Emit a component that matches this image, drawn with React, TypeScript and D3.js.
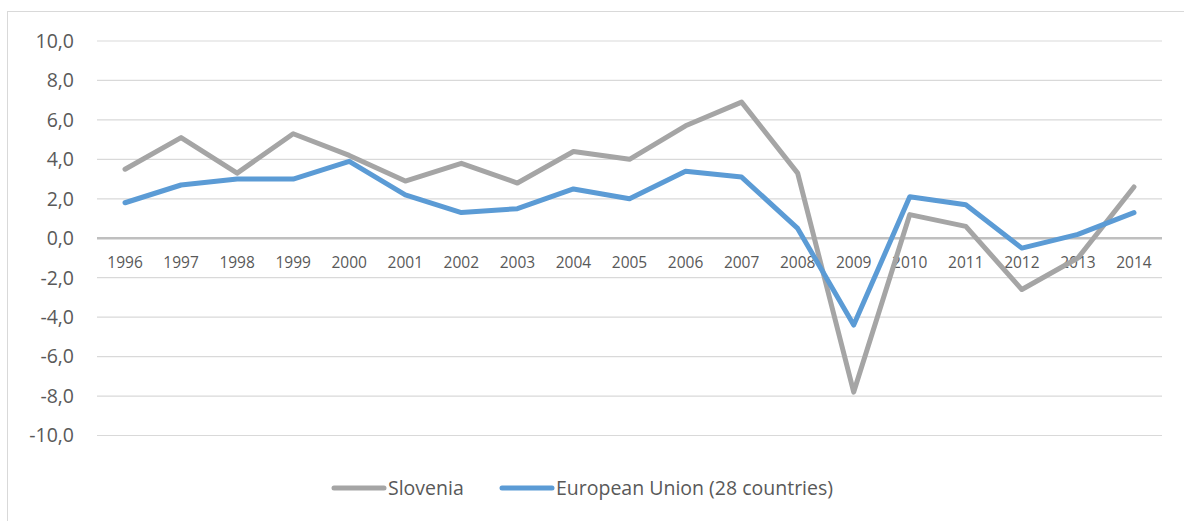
import React from "react";
import * as d3 from "d3";

const years = ["1996","1997","1998","1999","2000","2001","2002","2003","2004","2005","2006","2007","2008","2009","2010","2011","2012","2013","2014"];
const slovenia = [3.5, 5.1, 3.3, 5.3, 4.2, 2.9, 3.8, 2.8, 4.4, 4.0, 5.7, 6.9, 3.3, -7.8, 1.2, 0.6, -2.6, -1.0, 2.6];
const eu28 = [1.8, 2.7, 3.0, 3.0, 3.9, 2.2, 1.3, 1.5, 2.5, 2.0, 3.4, 3.1, 0.5, -4.4, 2.1, 1.7, -0.5, 0.2, 1.3];
const yTicks = [-10, -8, -6, -4, -2, 0, 2, 4, 6, 8, 10];
const seriesNames = ["Slovenia", "European Union (28 countries)"];
const seriesColors = ["#A5A5A5", "#5B9BD5"];

const W = 1184, H = 521;
const FONT = "'Open Sans', 'Noto Sans', sans-serif";

export default function App() {
  const x = d3.scaleBand<string>().domain(years).range([97, 1162]);
  const y = d3.scaleLinear().domain([-10, 10]).range([435.5, 41]);
  const line = d3.line<number>()
    .x((_, i) => (x(years[i]) as number) + x.bandwidth() / 2)
    .y((d) => y(d));
  const fmt = (v: number) => v.toFixed(1).replace(".", ",");
  const series = [slovenia, eu28];
  return (
    <svg width={W} height={H} style={{ position: "absolute", left: 0, top: 0, background: "#fff" }}>
      <rect x={7.5} y={11.5} width={1200} height={600} fill="#fff" stroke="#D9D9D9" strokeWidth={1} />
      {yTicks.map((t) => (
        <g key={t}>
          {t !== 0 && (
            <line x1={97} x2={1162} y1={y(t)} y2={y(t)} stroke="#D9D9D9" strokeWidth={1.2} />
          )}
          <text x={74} y={y(t)} dy="0.35em" textAnchor="end" fontFamily={FONT} fontSize={19.5} fill="#595959">
            {fmt(t)}
          </text>
        </g>
      ))}
      <line x1={97} x2={1162} y1={y(0)} y2={y(0)} stroke="#BFBFBF" strokeWidth={2.5} />
      {years.map((yr) => (
        <text key={yr} x={(x(yr) as number) + x.bandwidth() / 2} y={263} dy="0.35em" textAnchor="middle" fontFamily={FONT} fontSize={15.5} fill="#595959">
          {yr}
        </text>
      ))}
      {series.map((s, i) => (
        <path key={i} d={line(s) || ""} fill="none" stroke={seriesColors[i]} strokeWidth={5} strokeLinejoin="round" strokeLinecap="round" />
      ))}
      <g>
        <line x1={334} x2={384} y1={488} y2={488} stroke={seriesColors[0]} strokeWidth={5} strokeLinecap="round" />
        <text x={388} y={488} dy="0.35em" fontFamily={FONT} fontSize={19.5} fill="#595959">{seriesNames[0]}</text>
        <line x1={502} x2={552} y1={488} y2={488} stroke={seriesColors[1]} strokeWidth={5} strokeLinecap="round" />
        <text x={556} y={488} dy="0.35em" fontFamily={FONT} fontSize={19.5} fill="#595959">{seriesNames[1]}</text>
      </g>
    </svg>
  );
}
